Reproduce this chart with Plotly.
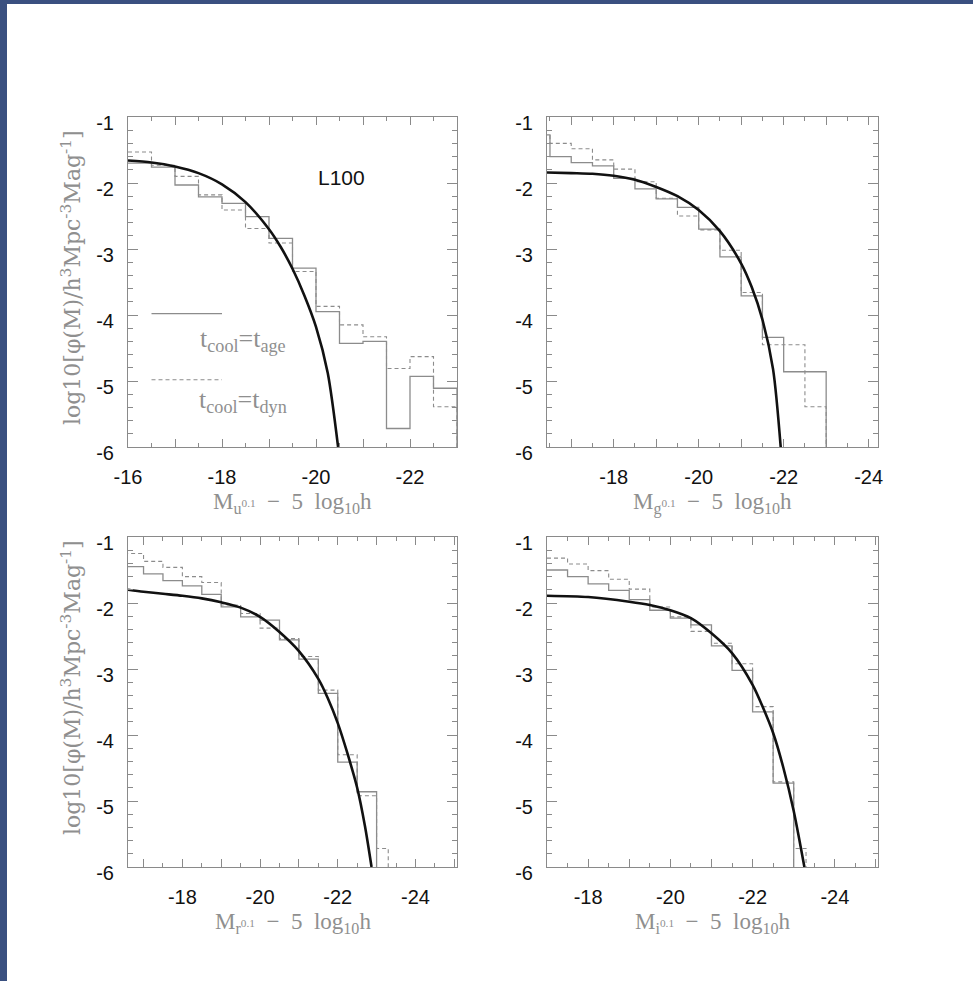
import plotly.graph_objects as go

# ---------------- data ----------------
# u band (panel 1)
u_edges = [-16.0, -16.5, -17.0, -17.5, -18.0, -18.5, -19.0, -19.5, -20.0, -20.5, -21.0, -21.5, -22.0, -22.5, -23.0]
u_age = [-1.70, -1.76, -2.03, -2.21, -2.31, -2.51, -2.84, -3.29, -3.95, -4.43, -4.40, -5.72, -4.93, -5.11]
u_dyn = [-1.53, -1.73, -1.90, -2.18, -2.41, -2.69, -2.91, -3.34, -3.87, -4.15, -4.33, -4.81, -4.63, -5.39]
u_fit_mag = [-16.0, -16.5, -17.0, -17.5, -18.0, -18.5, -19.0, -19.25, -19.5, -19.75, -20.0, -20.25, -20.47]
u_fit_phi = [-1.66, -1.69, -1.75, -1.85, -2.02, -2.29, -2.70, -2.97, -3.30, -3.70, -4.18, -4.88, -6.0]

# g band (panel 2)
g_edges = [-16.0, -16.5, -17.0, -17.5, -18.0, -18.5, -19.0, -19.5, -20.0, -20.5, -21.0, -21.5, -22.0, -22.5, -23.0]
g_age = [-1.27, -1.60, -1.69, -1.74, -1.93, -2.09, -2.24, -2.37, -2.70, -3.12, -3.71, -4.34, -4.86, -4.86]
g_dyn = [-1.28, -1.40, -1.48, -1.65, -1.79, -1.98, -2.23, -2.50, -2.71, -3.02, -3.66, -4.45, -4.45, -5.39]
g_fit_mag = [-16.43, -17.0, -17.5, -18.0, -18.5, -19.0, -19.5, -20.0, -20.5, -21.0, -21.25, -21.5, -21.75, -21.93]
g_fit_phi = [-1.84, -1.85, -1.86, -1.89, -1.95, -2.06, -2.20, -2.41, -2.73, -3.22, -3.58, -4.07, -4.82, -6.0]

# r band (panel 3)
r_edges_age = [-16.5, -17.0, -17.5, -18.0, -18.5, -19.0, -19.5, -20.0, -20.5, -21.0, -21.5, -22.0, -22.5, -23.0]
r_age = [-1.45, -1.56, -1.66, -1.74, -1.87, -2.06, -2.21, -2.26, -2.56, -2.85, -3.37, -4.41, -4.86]
r_edges_dyn = [-16.5, -17.0, -17.5, -18.0, -18.5, -19.0, -19.5, -20.0, -20.5, -21.0, -21.5, -22.0, -22.5, -23.0, -23.3]
r_dyn = [-1.25, -1.37, -1.46, -1.60, -1.69, -2.03, -2.16, -2.38, -2.54, -2.81, -3.32, -4.30, -4.92, -5.72]
r_fit_mag = [-16.6, -17.0, -17.5, -18.0, -18.5, -19.0, -19.5, -20.0, -20.5, -21.0, -21.5, -21.75, -22.0, -22.25, -22.5, -22.7, -22.87]
r_fit_phi = [-1.80, -1.83, -1.86, -1.89, -1.93, -1.99, -2.07, -2.21, -2.44, -2.73, -3.15, -3.45, -3.82, -4.28, -4.80, -5.38, -6.0]

# i band (panel 4)
i_edges_age = [-17.0, -17.5, -18.0, -18.5, -19.0, -19.5, -20.0, -20.5, -21.0, -21.5, -22.0, -22.5, -23.0]
i_age = [-1.50, -1.60, -1.71, -1.81, -1.95, -2.11, -2.23, -2.33, -2.65, -3.02, -3.65, -4.73]
i_edges_dyn = [-17.0, -17.5, -18.0, -18.5, -19.0, -19.5, -20.0, -20.5, -21.0, -21.5, -22.0, -22.5, -23.0, -23.3]
i_dyn = [-1.32, -1.41, -1.51, -1.64, -1.79, -2.06, -2.21, -2.43, -2.61, -2.92, -3.57, -4.71, -5.72]
i_fit_mag = [-17.0, -18.0, -19.0, -19.5, -20.0, -20.5, -21.0, -21.5, -22.0, -22.25, -22.5, -22.75, -23.0, -23.26]
i_fit_phi = [-1.89, -1.91, -1.98, -2.03, -2.11, -2.23, -2.46, -2.76, -3.24, -3.58, -3.97, -4.50, -5.15, -6.0]

# axis ticks / labels
x_tick_vals = [-16, -17, -18, -19, -20, -21, -22, -23, -24, -25]
x_tick_text = ["-16", "", "-18", "", "-20", "", "-22", "", "-24", ""]
y_tick_vals = [-1, -2, -3, -4, -5, -6]
y_tick_text = ["-1", "-2", "-3", "-4", "-5", "-6"]

x_ranges = [[-16.0, -23.0], [-16.43, -24.22], [-16.6, -25.07], [-17.0, -25.05]]
band_labels = ["u", "g", "r", "i"]
panel_label = "L100"
legend_labels = ["t<sub>cool</sub>=t<sub>age</sub>", "t<sub>cool</sub>=t<sub>dyn</sub>"]

# ---------------- layout geometry (pixels) ----------------
W, H = 973, 981
boxes = [(128, 457, 117, 447), (547, 878, 117, 447), (128, 457, 537, 867), (547, 878, 537, 867)]
def fx(px):
    return px / W
def fy(py):
    return 1 - py / H

AX = "#8a8a8a"
HIST = "#8c8c8c"
FLOOR = -7.0

fig = go.Figure()

def step_xy(edges, vals):
    xs = list(edges[:len(vals) + 1])
    ys = list(vals) + [FLOOR]
    return xs, ys

panels = [
    (u_edges, u_age, u_edges, u_dyn, u_fit_mag, u_fit_phi),
    (g_edges, g_age, g_edges, g_dyn, g_fit_mag, g_fit_phi),
    (r_edges_age, r_age, r_edges_dyn, r_dyn, r_fit_mag, r_fit_phi),
    (i_edges_age, i_age, i_edges_dyn, i_dyn, i_fit_mag, i_fit_phi),
]

for k, (ea, va, ed, vd, fm, fp) in enumerate(panels):
    xa = "x" if k == 0 else f"x{k+1}"
    ya = "y" if k == 0 else f"y{k+1}"
    xs, ys = step_xy(ed, vd)
    fig.add_trace(go.Scatter(x=xs, y=ys, mode="lines", line=dict(color=HIST, width=1.1, dash="4px,3px", shape="hv"),
                             xaxis=xa, yaxis=ya, showlegend=False, hoverinfo="skip"))
    xs, ys = step_xy(ea, va)
    fig.add_trace(go.Scatter(x=xs, y=ys, mode="lines", line=dict(color=HIST, width=1.3, shape="hv"),
                             xaxis=xa, yaxis=ya, showlegend=False, hoverinfo="skip"))
    fig.add_trace(go.Scatter(x=fm, y=fp, mode="lines", line=dict(color="#111111", width=2.6, shape="spline", smoothing=0.8),
                             xaxis=xa, yaxis=ya, showlegend=False, hoverinfo="skip"))

layout = dict(width=W, height=H, autosize=False, margin=dict(l=0, r=0, t=0, b=0, pad=0, autoexpand=False),
              paper_bgcolor="white", plot_bgcolor="white", showlegend=False)

tickfont = dict(family="Liberation Sans, Arial, sans-serif", size=20, color="#111111")
for k, (x0, x1, y0, y1) in enumerate(boxes):
    sx = "" if k == 0 else str(k + 1)
    layout["xaxis" + sx] = dict(
        domain=[fx(x0), fx(x1)], range=x_ranges[k], anchor="y" + sx, automargin=False,
        showline=True, linecolor=AX, linewidth=1, mirror="allticks",
        ticks="inside", ticklen=8, tickcolor=AX, tickwidth=1,
        tickmode="array", tickvals=x_tick_vals, ticktext=x_tick_text,
        minor=dict(tickmode="linear", tick0=0, dtick=0.5, ticks="inside", ticklen=4, tickcolor=AX),
        tickfont=tickfont, ticklabelstandoff=12,
        showgrid=False, zeroline=False, fixedrange=True)
    layout["yaxis" + sx] = dict(
        domain=[fy(y1), fy(y0)], range=[-6, -1], anchor="x" + sx, automargin=False,
        showline=True, linecolor=AX, linewidth=1, mirror="allticks",
        ticks="inside", ticklen=10, tickcolor=AX, tickwidth=1,
        tickmode="array", tickvals=y_tick_vals, ticktext=y_tick_text,
        minor=dict(tickmode="linear", tick0=0, dtick=0.2, ticks="inside", ticklen=5, tickcolor=AX),
        tickfont=tickfont, ticklabelstandoff=9, ticklabelshift=6,
        showgrid=False, zeroline=False, fixedrange=True)

annotations = []
serif = "Liberation Serif, Times New Roman, serif"
TITLE = "#8f8f8f"
for k, (x0, x1, y0, y1) in enumerate(boxes):
    annotations.append(dict(
        x=fx((x0 + x1) / 2), y=fy(y1 + 56), xref="paper", yref="paper",
        text=f"M<sub>{band_labels[k]}<sup>0.1</sup></sub>  \u2212  5  log<sub>10</sub>h",
        showarrow=False, xanchor="center", yanchor="middle",
        font=dict(family=serif, size=23, color=TITLE)))
for yc in (278, 688):
    annotations.append(dict(
        x=fx(71), y=fy(yc), xref="paper", yref="paper", textangle=-90,
        text="log10[\u03c6(M)/h<sup>3</sup>Mpc<sup>-3</sup>Mag<sup>-1</sup>]",
        showarrow=False, xanchor="center", yanchor="middle",
        font=dict(family="DejaVu Serif, serif", size=22, color=TITLE)))
annotations.append(dict(x=-20.55, y=-1.92, xref="x", yref="y", text=panel_label, showarrow=False,
                        font=dict(family="Liberation Sans, Arial, sans-serif", size=21, color="#111111")))
annotations.append(dict(x=-18.45, y=-4.38, xref="x", yref="y", text=legend_labels[0], showarrow=False,
                        font=dict(family=serif, size=26, color=TITLE)))
annotations.append(dict(x=-18.45, y=-5.30, xref="x", yref="y", text=legend_labels[1], showarrow=False,
                        font=dict(family=serif, size=26, color=TITLE)))
layout["annotations"] = annotations

BLUE = "#3a5080"
layout["shapes"] = [
    dict(type="line", xref="x", yref="y", x0=-16.5, x1=-18.0, y0=-3.98, y1=-3.98, line=dict(color=HIST, width=1.3)),
    dict(type="line", xref="x", yref="y", x0=-16.5, x1=-18.0, y0=-4.98, y1=-4.98, line=dict(color=HIST, width=1.1, dash="4px,3px")),
    dict(type="rect", xref="paper", yref="paper", x0=0, x1=fx(7), y0=0, y1=1, fillcolor=BLUE, line=dict(width=0)),
    dict(type="rect", xref="paper", yref="paper", x0=0, x1=1, y0=fy(4), y1=1, fillcolor=BLUE, line=dict(width=0)),
]

fig.update_layout(**layout)

reset_js = (
    "var s=document.createElement('style');"
    "s.innerHTML='html,body{margin:0 !important;padding:0 !important;overflow:hidden !important;}';"
    "document.head.appendChild(s);"
    "var d=document.getElementById('{plot_id}');"
    "if(d){d.style.position='fixed';d.style.left='0px';d.style.top='0px';}"
)
fig.write_html("out.html", config={"displayModeBar": False}, post_script=reset_js)
